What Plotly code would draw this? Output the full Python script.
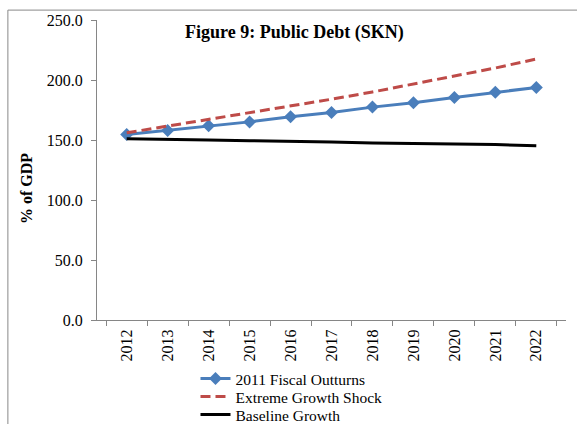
import plotly.graph_objects as go

years = ["2012", "2013", "2014", "2015", "2016", "2017", "2018", "2019", "2020", "2021", "2022"]
fiscal_outturns = [154.5, 157.9, 161.8, 165.1, 169.3, 172.9, 177.4, 181.0, 185.5, 189.7, 193.8]
extreme_shock = [156.0, 161.5, 167.0, 172.5, 178.0, 184.0, 190.0, 196.5, 203.0, 210.0, 217.5]
baseline = [151.0, 150.2, 150.0, 149.4, 149.2, 148.4, 147.4, 147.2, 146.4, 146.2, 145.3]

FONT = "Liberation Serif, Times New Roman, serif"

fig = go.Figure()
fig.add_trace(go.Scatter(
    x=years, y=fiscal_outturns, name="2011 Fiscal Outturns", mode="lines+markers",
    line=dict(color="#4a7ebb", width=3),
    marker=dict(symbol="diamond", size=10, color="#4a7ebb"),
    legend="legend",
))
fig.add_trace(go.Scatter(
    x=years, y=extreme_shock, name="Extreme Growth Shock", mode="lines",
    line=dict(color="#be4b48", width=3, dash="10px,5px"),
    legend="legend2",
))
fig.add_trace(go.Scatter(
    x=years, y=baseline, name="Baseline Growth", mode="lines",
    line=dict(color="#000000", width=3),
    legend="legend3",
))

def leg(row_y):
    return dict(
        x=0.21, xanchor="left", xref="paper",
        y=(424 - row_y) / 424, yanchor="middle", yref="container",
        font=dict(family=FONT, size=15.5, color="#000000"),
        bgcolor="rgba(0,0,0,0)", borderwidth=0, itemwidth=30,
    )

fig.update_layout(
    width=577, height=424,
    margin=dict(l=97, r=11, t=20, b=104),
    paper_bgcolor="white", plot_bgcolor="white",
    font=dict(family=FONT, size=15, color="#000000"),
    showlegend=True,
    legend=leg(379),
    legend2=leg(397),
    legend3=leg(415),
    xaxis=dict(
        type="category", showgrid=False, showline=True, linecolor="#868686", linewidth=1,
        ticks="outside", ticklen=5, tickcolor="#868686", tickson="boundaries",
        tickangle=-90, tickfont=dict(family=FONT, size=16), zeroline=False,
        automargin=False, ticklabelstandoff=2,
    ),
    yaxis=dict(
        range=[0, 250], dtick=50, tickformat=".1f", showgrid=False, zeroline=False,
        showline=True, linecolor="#868686", linewidth=1,
        ticks="outside", ticklen=5, tickcolor="#868686",
        tickfont=dict(family=FONT, size=16), automargin=False, ticklabelstandoff=5,
    ),
    annotations=[
        dict(
            text="<b>Figure 9: Public Debt (SKN)</b>", xref="paper", yref="paper",
            x=0.422, y=0.957, xanchor="center", yanchor="middle", showarrow=False,
            font=dict(family=FONT, size=18, color="#000000"),
        ),
        dict(
            text="<b>% of GDP</b>", xref="paper", yref="paper",
            x=(26 - 97) / 469, y=(320 - 189) / 300, xanchor="center", yanchor="middle",
            textangle=-90, showarrow=False,
            font=dict(family=FONT, size=16, color="#000000"),
        ),
    ],
    shapes=[dict(
        type="rect", xref="paper", yref="paper",
        x0=-0.19, x1=1.2, y0=-0.5, y1=1.033,
        line=dict(color="#898989", width=1), fillcolor="rgba(0,0,0,0)", layer="below",
    )],
)

fig.write_html("out.html")
